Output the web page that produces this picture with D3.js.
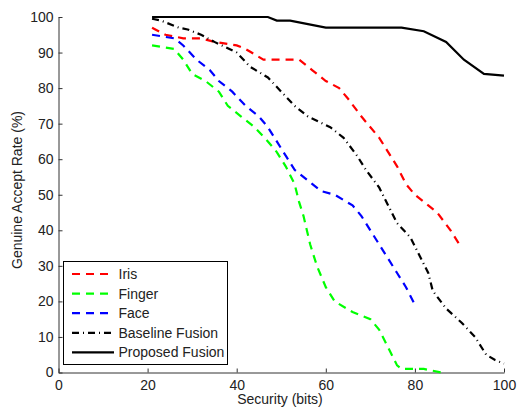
<!DOCTYPE html>
<html>
<head>
<meta charset="utf-8">
<script src="https://cdn.jsdelivr.net/npm/d3@7"></script>
<style>
  body { margin: 0; background: #fff; }
  text { font-family: "Liberation Sans", Arial, sans-serif; }
</style>
</head>
<body>
<svg width="518" height="407"></svg>
<script>
const svg = d3.select("svg"),
    width = +svg.attr("width"),
    height = +svg.attr("height")

// [security bits, GAR %]
const iris = [[21,97],[24,95],[28,94],[32,94],[35,93],[40,92],[42,91],[46,88],[52,88],[54,88],[57,85],
    [60,82],[63,80],[65,77],[68,72],[72,66],[76,58],[78,53],[80,50],[85,45],[88,40],[90,36]]
const finger = [[21,92],[26,91],[28,88],[30,84],[33,82],[36,79],[38,75],[41,72],[44,69],[47,65],[49,62],
    [51,58],[53,53],[54,48],[55,44],[56.5,36],[58,30],[60,24],[62,20],[66,17],[70,15],[72,12],[74,7],
    [76,2],[77,1],[82,1],[86,0]]
const face = [[21,95],[26,94],[28,92],[31,88],[34,85],[36,82],[39,79],[42,75],[45,72],[47,69],[49,65],
    [51,61],[53,57],[56,54],[59,51],[62,50],[66,47],[68,44],[70,40],[72,36],[74,32],[76,28],[78,24],[80,19]]
const baseline = [[21,99.5],[23,99],[27,97],[29,96.5],[32,95],[35,93],[40,90],[43,86],[47,83],[50,79],
    [53,75],[56,72],[61,69],[64,66],[67,61],[69,57],[72,52],[74,47],[76,42],[79,38],[81,33],[83,28],
    [84,23],[87,18],[90.5,14],[93.5,10],[96,5],[98,3.5],[100,2.5]]
const proposed = [[21,100],[47,100],[49,99],[52,99],[56,98],[60,97],[77,97],[82,96],[87,93],[91,88],
    [95.5,84],[100,83.5]]

const seriesNames = ["Iris", "Finger", "Face", "Baseline Fusion", "Proposed Fusion"]
const xTicks = [0, 20, 40, 60, 80, 100]
const yTicks = [0, 10, 20, 30, 40, 50, 60, 70, 80, 90, 100]

const series = [
    {name: seriesNames[0], data: iris, color: "#ff0000", dash: "8,6"},
    {name: seriesNames[1], data: finger, color: "#00ff00", dash: "8,6"},
    {name: seriesNames[2], data: face, color: "#0000ff", dash: "8,6"},
    {name: seriesNames[3], data: baseline, color: "#000", dash: "7,4,1,4"},
    {name: seriesNames[4], data: proposed, color: "#000", dash: null}
]

const x = d3.scaleLinear().domain([0, 100]).range([58.5, 504]),
    y = d3.scaleLinear().domain([0, 100]).range([372.5, 17])

const line = d3.line()
    .x(d => x(d[0]))
    .y(d => y(d[1]))

// axes (left + bottom only, ticks pointing in)
svg.append("g")
    .attr("transform", "translate(0," + y(0) + ")")
    .call(d3.axisBottom(x).tickValues(xTicks).tickSizeInner(-4).tickSizeOuter(0).tickPadding(8))
svg.append("g")
    .attr("transform", "translate(" + x(0) + ",0)")
    .call(d3.axisLeft(y).tickValues(yTicks).tickSizeInner(-4).tickSizeOuter(0).tickPadding(5))

svg.selectAll(".domain, .tick line").attr("stroke", "#333").attr("stroke-width", 1)
svg.selectAll(".tick text").attr("fill", "#222").style("font-size", "14px")
    .style("font-family", "'Liberation Sans', Arial, sans-serif")

svg.append("text")
    .attr("x", 280).attr("y", 403.5)
    .attr("text-anchor", "middle")
    .style("font-size", "14px").attr("fill", "#222")
    .text("Security (bits)")

svg.append("text")
    .attr("transform", "translate(22,190) rotate(-90)")
    .attr("text-anchor", "middle")
    .style("font-size", "14px").attr("fill", "#222")
    .text("Genuine Accept Rate (%)")

svg.selectAll("path.series")
    .data(series)
    .enter()
    .append("path")
    .attr("class", "series")
    .attr("d", d => line(d.data))
    .attr("fill", "none")
    .attr("stroke", d => d.color)
    .attr("stroke-width", 2.2)
    .attr("stroke-dasharray", d => d.dash)

// legend
const legend = svg.append("g")
legend.append("rect")
    .attr("x", 63.5).attr("y", 261.5)
    .attr("width", 164).attr("height", 103)
    .attr("fill", "#fff").attr("stroke", "#000").attr("stroke-width", 1)

const rows = legend.selectAll("g.row")
    .data(series)
    .enter()
    .append("g")
    .attr("transform", (d, i) => "translate(0," + (274 + i * 19.6) + ")")

rows.append("line")
    .attr("x1", 72).attr("x2", 114)
    .attr("stroke", d => d.color)
    .attr("stroke-width", 2.2)
    .attr("stroke-dasharray", d => d.dash)

rows.append("text")
    .attr("x", 118.5).attr("y", 5)
    .style("font-size", "14px").attr("fill", "#222")
    .text(d => d.name)
</script>
</body>
</html>
